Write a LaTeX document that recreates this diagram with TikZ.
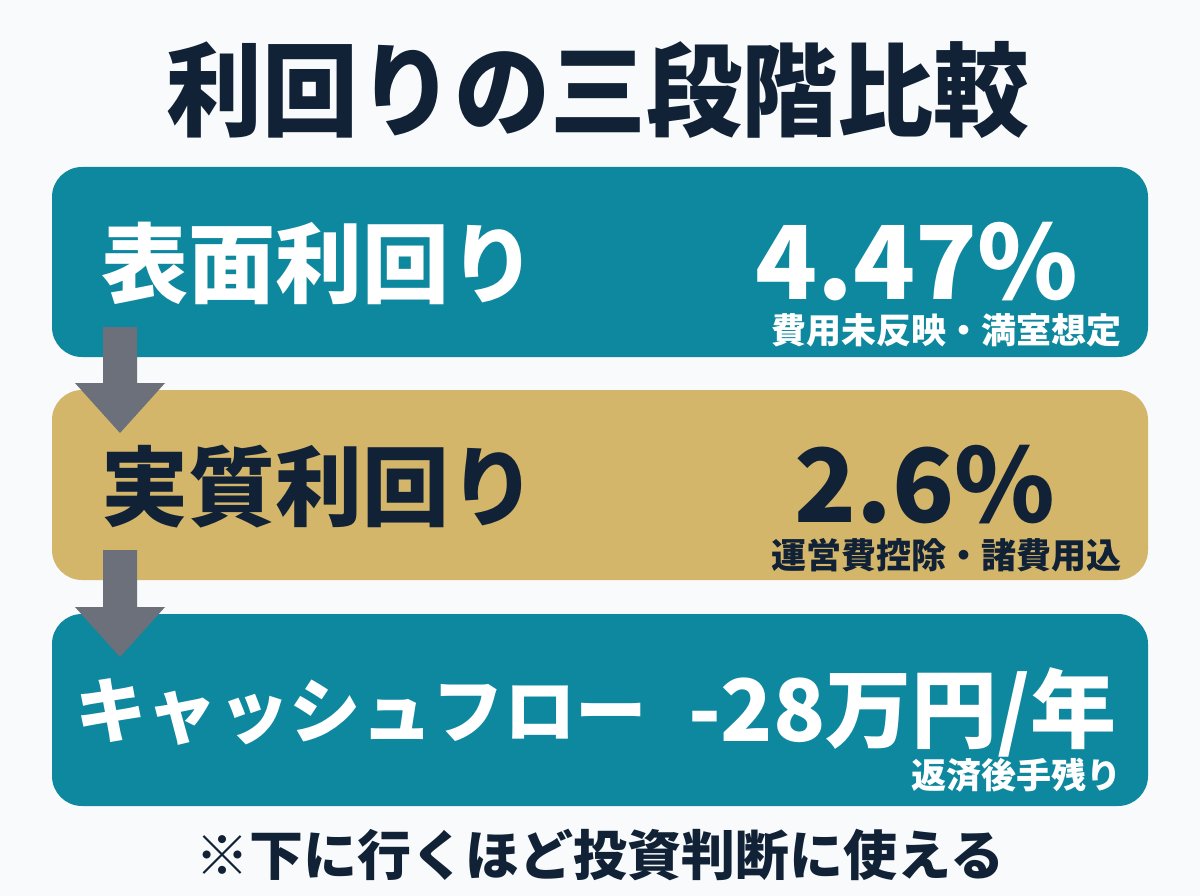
\documentclass[tikz,border=0pt]{standalone}
\usepackage{fontspec}
\setmainfont{Noto Sans CJK JP}
\newfontfamily\blk{Noto Sans CJK JP Black}
\definecolor{teal1}{HTML}{0E889E}
\definecolor{gold1}{HTML}{D4B66A}
\definecolor{arrowc}{HTML}{6B707A}
\definecolor{navy}{HTML}{112236}
\definecolor{bg}{HTML}{F9FAFB}
\newcommand{\fs}[1]{\fontsize{#1}{#1}\selectfont\bfseries}
\newcommand{\fb}[1]{\fontsize{#1}{#1}\selectfont\blk}
\begin{document}
\begin{tikzpicture}[x=1pt,y=-1pt,
  band/.style={rounded corners=30pt, minimum width=1096pt, inner sep=0pt, draw=none},
  lbl/.style={inner sep=0pt, anchor=west},
  val/.style={inner sep=0pt},
  sub/.style={inner sep=0pt, anchor=east},
  arr/.style={fill=arrowc}]
\fill[bg] (0,0) rectangle (1200,896);
\useasboundingbox (0,0) rectangle (1200,896);
\node[inner sep=0pt, text=navy, yscale=1.06] (title) at (598,90) {\fb{96}利回りの三段階比較};
\node[band, fill=teal1, minimum height=190pt] (box1) at (600,262) {};
\node[band, fill=gold1, minimum height=190pt] (box2) at (600,485) {};
\node[band, fill=teal1, minimum height=192pt] (box3) at (600,710) {};
% arrows
\fill[arr] (103,327) -- (137,327) -- (137,383) -- (165,383) -- (120,433) -- (75,383) -- (103,383) -- cycle;
\fill[arr] (103,550) -- (137,550) -- (137,607) -- (165,607) -- (120,657) -- (75,607) -- (103,607) -- cycle;
% texts
\node[lbl, text=white] (t1) at (101,263) {\fs{87}表面利回り};
\node[val, text=white] (v1) at (917,262) {\fs{102}4.47\%};
\node[sub, text=white] (s1) at (1122,330) {\fs{35}費用未反映・満室想定};
\node[lbl, text=navy] (t2) at (101,487) {\fs{87}実質利回り};
\node[val, text=navy] (v2) at (925,485) {\fs{102}2.6\%};
\node[sub, text=navy] (s2) at (1122,555) {\fs{35}運営費控除・諸費用込};
\node[lbl, text=white] (t3) at (75,712) {\fs{71.5}キャッシュフロー};
\node[inner sep=0pt, anchor=east, text=white] (v3) at (1117,712) {\fs{86}-28万円/年};
\node[sub, text=white] (s3) at (1122,775) {\fs{35}返済後手残り};
\node[inner sep=0pt, text=navy] (foot) at (600,855) {\fb{54}※下に行くほど投資判断に使える};
\end{tikzpicture}
\end{document}
